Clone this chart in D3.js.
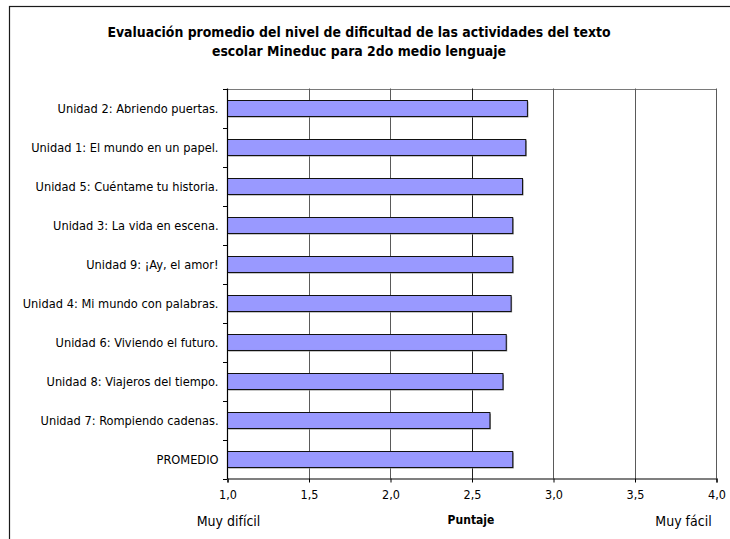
<!DOCTYPE html>
<html>
<head>
<meta charset="utf-8">
<script src="https://cdn.jsdelivr.net/npm/d3@7"></script>
<style>
  html, body { margin: 0; padding: 0; background: #fff; }
  svg { display: block; }
  text { font-family: "DejaVu Sans Condensed", "DejaVu Sans", sans-serif; fill: #000; }
</style>
</head>
<body>
<svg id="chart" width="730" height="539"></svg>
<script>
// Units, ordered as shown from top to bottom
const categories = [
  "Unidad 2: Abriendo puertas.",
  "Unidad 1: El mundo en un papel.",
  "Unidad 5: Cuéntame tu historia.",
  "Unidad 3: La vida en escena.",
  "Unidad 9: ¡Ay, el amor!",
  "Unidad 4: Mi mundo con palabras.",
  "Unidad 6: Viviendo el futuro.",
  "Unidad 8: Viajeros del tiempo.",
  "Unidad 7: Rompiendo cadenas.",
  "PROMEDIO"
];
// Average difficulty score per unit (1 = very hard, 4 = very easy)
const scores = [2.84, 2.83, 2.81, 2.75, 2.75, 2.74, 2.71, 2.69, 2.61, 2.75];
const xTicks = [1.0, 1.5, 2.0, 2.5, 3.0, 3.5, 4.0];
const titleLines = [
  "Evaluación promedio del nivel de dificultad de las actividades del texto",
  "escolar Mineduc para 2do medio lenguaje"
];

const svg = d3.select("#chart");
const plot = { left: 227, right: 716, top: 88.5, bottom: 478.5 };

// Outer chart frame (continues past the right and bottom edges)
svg.append("rect")
  .attr("x", 9.5).attr("y", 6.5)
  .attr("width", 760).attr("height", 580)
  .attr("fill", "#fff").attr("stroke", "#1a1a1a").attr("stroke-width", 1.2);

// Title
svg.append("g").selectAll("text").data(titleLines).join("text")
  .attr("x", 359).attr("y", (d, i) => 37 + i * 19)
  .attr("text-anchor", "middle")
  .attr("font-size", 13.9).attr("font-weight", "bold")
  .text(d => d);

const x = d3.scaleLinear().domain([1, 4]).range([plot.left, plot.right]);
const y = d3.scaleBand().domain(categories).range([plot.top, plot.bottom])
  .paddingInner(0.59).paddingOuter(0.295);

// Plot-area top edge
svg.append("line")
  .attr("x1", plot.left).attr("x2", plot.right + 0.5)
  .attr("y1", Math.round(plot.top) + 0.5).attr("y2", Math.round(plot.top) + 0.5)
  .attr("stroke", "#7a7a7a");

// Vertical gridlines
svg.append("g").selectAll("line").data(xTicks.slice(1)).join("line")
  .attr("x1", d => Math.round(x(d)) + 0.5).attr("x2", d => Math.round(x(d)) + 0.5)
  .attr("y1", plot.top).attr("y2", plot.bottom)
  .attr("stroke", d => d === 2.5 ? "#1e1e1e" : "#5a5a5a").attr("stroke-width", 1);

// Bar shadows
svg.append("g").selectAll("rect").data(scores).join("rect")
  .attr("x", x(1) + 1.5)
  .attr("y", (d, i) => Math.round(y(categories[i])) + 1.5)
  .attr("width", d => x(d) - x(1))
  .attr("height", y.bandwidth())
  .attr("fill", "#8a8a8a");

// Bars
svg.append("g").selectAll("rect").data(scores).join("rect")
  .attr("x", x(1) + 0.5)
  .attr("y", (d, i) => Math.round(y(categories[i])) + 0.5)
  .attr("width", d => x(d) - x(1))
  .attr("height", y.bandwidth())
  .attr("fill", "#9999ff").attr("stroke", "#111").attr("stroke-width", 1);

// X axis
const xAxis = d3.axisBottom(x).tickValues(xTicks).tickSize(4).tickPadding(8)
  .tickFormat(d => d3.format(".1f")(d).replace(".", ","));
const gx = svg.append("g").attr("transform", `translate(0.5,${plot.bottom})`).call(xAxis);
gx.selectAll("text").attr("font-size", 12.5)
  .attr("font-family", "DejaVu Sans Condensed, DejaVu Sans, sans-serif");
gx.selectAll("line").attr("stroke", "#000");
gx.select(".domain").attr("stroke", "#000").attr("stroke-width", 1.2);

// Y axis: tick marks at band boundaries, labels centred on bands
svg.append("line")
  .attr("x1", plot.left + 0.5).attr("x2", plot.left + 0.5)
  .attr("y1", plot.top).attr("y2", plot.bottom + 0.5)
  .attr("stroke", "#000").attr("stroke-width", 1.2);
const step = y.step();
svg.append("g").selectAll("line").data(d3.range(categories.length + 1)).join("line")
  .attr("x1", plot.left - 4).attr("x2", plot.left)
  .attr("y1", i => Math.round(plot.top + i * step) + 0.5)
  .attr("y2", i => Math.round(plot.top + i * step) + 0.5)
  .attr("stroke", "#000");
svg.append("g").selectAll("text").data(categories).join("text")
  .attr("x", 218.5)
  .attr("y", d => y(d) + y.bandwidth() / 2)
  .attr("dy", "0.36em")
  .attr("text-anchor", "end")
  .attr("font-size", 12.7)
  .text(d => d);

// Axis captions
svg.append("text").attr("x", 228.5).attr("y", 526).attr("text-anchor", "middle")
  .attr("font-family", "DejaVu Sans, sans-serif")
  .attr("font-size", 14).text("Muy difícil");
svg.append("text").attr("x", 471).attr("y", 524).attr("text-anchor", "middle")
  .attr("font-family", "DejaVu Sans, sans-serif")
  .attr("font-size", 12).attr("font-weight", "bold").text("Puntaje");
svg.append("text").attr("x", 683.5).attr("y", 526).attr("text-anchor", "middle")
  .attr("font-family", "DejaVu Sans, sans-serif")
  .attr("font-size", 14).text("Muy fácil");
</script>
</body>
</html>
